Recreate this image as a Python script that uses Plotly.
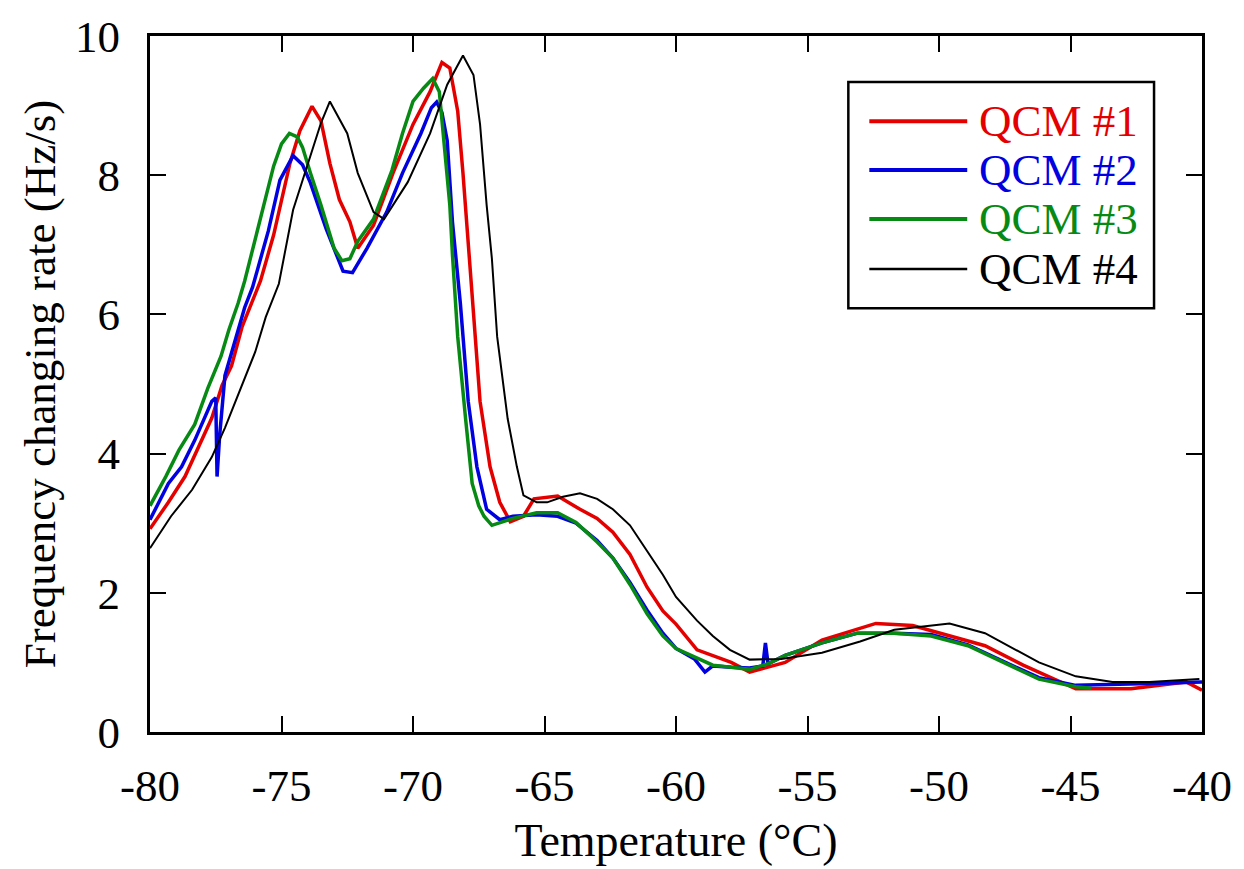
import plotly.graph_objects as go

# ---- data ----
qcm1_x = [-80, -79.3, -78.67, -78.2, -77.65, -77.26, -76.9, -76.5, -76.1, -75.8, -75.3, -74.68, -74.3,
          -73.84, -73.5, -73.16, -72.8, -72.4, -72.1, -71.5, -70.76, -70.0, -69.35, -68.9, -68.6, -68.3,
          -68.1, -67.9, -67.7, -67.45, -67.07, -66.7, -66.3, -65.8, -65.4, -64.5, -63.65, -63.0, -62.4,
          -61.75, -61.1, -60.5, -60.0, -59.2, -58.6, -57.9, -57.2, -55.85, -54.45, -52.4, -51.0, -49.6,
          -48.25, -46.8, -44.8, -42.7, -40.6, -40]
qcm1_y = [2.92, 3.3, 3.67, 4.05, 4.51, 4.98, 5.26, 5.82, 6.2, 6.48, 7.14, 8.17, 8.64,
          8.99, 8.78, 8.17, 7.65, 7.33, 6.95, 7.28, 8.03, 8.73, 9.2, 9.62, 9.54, 8.92,
          8.03, 7.09, 6.02, 4.75, 3.81, 3.3, 3.02, 3.1, 3.35, 3.39, 3.2, 3.07, 2.87,
          2.55, 2.08, 1.74, 1.55, 1.18, 1.1, 1.0, 0.86, 1.0, 1.32, 1.56, 1.53, 1.38,
          1.24, 0.96, 0.62, 0.62, 0.72, 0.6]

qcm2_x = [-80, -79.3, -78.8, -78.3, -77.65, -77.5, -77.45, -77.35, -77.15, -76.77, -76.4, -76.1, -75.5,
          -75.06, -74.56, -74.2, -73.9, -73.3, -72.66, -72.3, -71.75, -71.0, -70.4, -69.7, -69.3, -69.1,
          -68.9, -68.7, -68.5, -68.2, -67.9, -67.57, -67.2, -66.7, -66.2, -65.3, -64.5, -63.8, -63.0,
          -62.4, -61.75, -61.1, -60.5, -60.0, -59.3, -58.9, -58.6, -57.9, -57.2, -56.7, -56.6, -56.5,
          -55.85, -54.45, -53.1, -51.7, -50.3, -48.9, -47.55, -46.2, -44.8, -43.0, -41.5, -40]
qcm2_y = [3.05, 3.57, 3.81, 4.19, 4.75, 4.8, 3.67, 4.27, 5.12, 5.64, 6.1, 6.39, 7.2,
          7.93, 8.28, 8.15, 7.89, 7.23, 6.62, 6.6, 6.95, 7.47, 8.03, 8.6, 8.97, 9.05,
          8.9, 8.5, 7.33, 6.16, 4.75, 3.81, 3.2, 3.05, 3.1, 3.12, 3.1, 3.0, 2.75,
          2.5, 2.15, 1.75, 1.42, 1.2, 1.05, 0.86, 0.95, 0.93, 0.92, 0.95, 1.28, 0.98,
          1.1, 1.28, 1.42, 1.42, 1.4, 1.25, 1.02, 0.78, 0.67, 0.68, 0.7, 0.72]

qcm3_x = [-80, -79.4, -78.9, -78.3, -77.8, -77.3, -77.0, -76.65, -76.4, -75.9, -75.3, -75.0, -74.7,
          -74.4, -74.2, -73.9, -73.5, -73.0, -72.7, -72.4, -72.1, -71.5, -70.8, -70.4, -70.0, -69.6,
          -69.25, -69.0, -68.85, -68.6, -68.5, -68.3, -68.0, -67.75, -67.5, -67.3, -67.0, -66.6, -66.2,
          -65.3, -64.5, -63.8, -63.0, -62.4, -61.75, -61.1, -60.5, -60.0, -59.3, -58.6, -57.9, -57.2,
          -56.5, -55.85, -54.45, -53.1, -51.7, -50.3, -48.9, -47.55, -46.2, -44.8, -44.2]
qcm3_y = [3.25, 3.67, 4.05, 4.42, 4.94, 5.4, 5.78, 6.16, 6.48, 7.23, 8.13, 8.45, 8.6,
          8.55, 8.4, 8.03, 7.57, 6.95, 6.77, 6.8, 7.05, 7.37, 8.07, 8.6, 9.06, 9.25,
          9.39, 9.2, 8.6, 7.57, 6.86, 5.68, 4.5, 3.57, 3.25, 3.1, 2.97, 3.02, 3.07,
          3.15, 3.15, 3.01, 2.73, 2.5, 2.12, 1.7, 1.38, 1.2, 1.08, 0.96, 0.93, 0.9,
          0.98, 1.1, 1.28, 1.42, 1.42, 1.38, 1.24, 1.0, 0.76, 0.65, 0.63]

qcm4_x = [-80, -79.2, -78.4, -77.65, -77.15, -76.5, -76.0, -75.6, -75.1, -74.56, -73.9, -73.5, -73.16,
          -72.5, -72.1, -71.5, -71.1, -70.2, -69.35, -68.7, -68.1, -67.7, -67.45, -67.2, -67.0, -66.8,
          -66.4, -66.05, -65.8, -65.3, -64.9, -64.3, -63.65, -63.0, -62.4, -61.75, -61.1, -60.5, -60.0,
          -59.2, -58.6, -57.95, -57.2, -56.0, -54.45, -53.0, -51.7, -50.5, -49.6, -48.25, -47.2, -46.2,
          -44.8, -43.4, -42.0, -40.1]
qcm4_y = [2.64, 3.1, 3.48, 3.95, 4.37, 4.98, 5.46, 5.96, 6.44, 7.5, 8.27, 8.75, 9.06,
          8.6, 8.03, 7.47, 7.37, 7.9, 8.6, 9.3, 9.72, 9.44, 8.73, 7.57, 6.8, 5.68,
          4.5, 3.81, 3.4, 3.3, 3.3, 3.38, 3.43, 3.35, 3.2, 2.97, 2.6, 2.26, 1.94,
          1.6, 1.38, 1.18, 1.04, 1.05, 1.14, 1.3, 1.47, 1.52, 1.56, 1.42, 1.2, 1.0,
          0.8, 0.72, 0.72, 0.76]

series_names = ["QCM #1", "QCM #2", "QCM #3", "QCM #4"]
series_colors = ["#e50000", "#0000e0", "#078a14", "#000000"]
series_widths = [3.5, 3.5, 3.5, 2]
x_ticks = [-80, -75, -70, -65, -60, -55, -50, -45, -40]
x_tick_text = ["-80", "-75", "-70", "-65", "-60", "-55", "-50", "-45", "-40"]
y_ticks = [0, 2, 4, 6, 8, 10]
y_tick_text = ["0", "2", "4", "6", "8", "10"]

FONT = "Liberation Serif, Times New Roman, serif"

fig = go.Figure()
for xs, ys, name, col, w in zip([qcm1_x, qcm2_x, qcm3_x, qcm4_x],
                                [qcm1_y, qcm2_y, qcm3_y, qcm4_y],
                                series_names, series_colors, series_widths):
    fig.add_trace(go.Scatter(x=xs, y=ys, mode="lines", name=name,
                             line=dict(color=col, width=w), showlegend=False))

axis_common = dict(showgrid=False, zeroline=False, showline=True, linecolor="black", linewidth=3,
                   mirror="ticks", ticks="inside", ticklen=16, tickwidth=2, tickcolor="black",
                   tickfont=dict(family=FONT, size=45, color="black"))

fig.update_xaxes(range=[-80, -40], tickvals=x_ticks, ticktext=x_tick_text, ticklabelstandoff=12,
                 title=dict(text="Temperature (°C)", font=dict(family=FONT, size=46, color="black"),
                            standoff=14),
                 **axis_common)
fig.update_yaxes(range=[0, 10], tickvals=y_ticks, ticktext=y_tick_text, ticklabelstandoff=18,
                 title=dict(text="Frequency changing rate (Hz/s)",
                            font=dict(family=FONT, size=45, color="black"), standoff=6),
                 **axis_common)

# manual legend (box, line samples, coloured labels)
L, R, T, B = 150, 1203, 30, 741
def px(xp):
    return (xp - L) / (R - L)
def py(yp):
    return (B - yp) / (B - T)

shapes = [dict(type="rect", xref="paper", yref="paper", x0=px(849), x1=px(1155), y0=py(308), y1=py(77),
               line=dict(color="black", width=2.5), fillcolor="white", layer="above")]
annotations = []
legend_rows = [117, 167, 217, 268]
for name, col, w, yy in zip(series_names, series_colors, series_widths, legend_rows):
    shapes.append(dict(type="line", xref="paper", yref="paper", x0=px(870), x1=px(968), y0=py(yy), y1=py(yy),
                       line=dict(color=col, width=w + 0.5), layer="above"))
    annotations.append(dict(xref="paper", yref="paper", x=px(978), y=py(yy), xanchor="left", yanchor="middle",
                            text=name, showarrow=False, font=dict(family=FONT, size=45, color=col)))

fig.update_layout(width=1244, height=869, margin=dict(l=150, r=41, t=30, b=128),
                  paper_bgcolor="white", plot_bgcolor="white",
                  shapes=shapes, annotations=annotations, showlegend=False)

fig.write_html("out.html")
